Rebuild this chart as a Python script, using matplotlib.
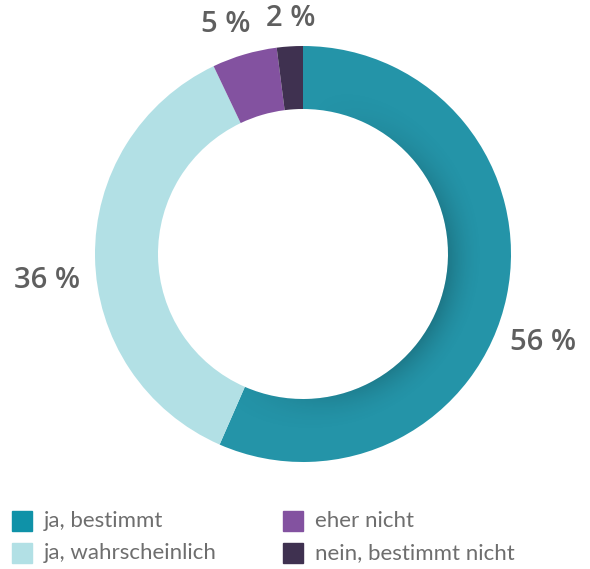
import numpy as np
import matplotlib.pyplot as plt

# Anteile (im Uhrzeigersinn ab 12 Uhr)
categories = ["ja, bestimmt", "ja, wahrscheinlich", "eher nicht", "nein, bestimmt nicht"]
values = [56, 36, 5, 2]
labels = ["56 %", "36 %", "5 %", "2 %"]
colors = ["#2494a8", "#b2e0e5", "#8352a0", "#3f3150"]
legend_colors = ["#0f92a8", "#b2e0e5", "#8352a0", "#3f3150"]

W, H = 590, 569
fig = plt.figure(figsize=(W / 100, H / 100), dpi=100)

cx, cy, r = 303, 254, 208  # pixel, y von oben
r_in = 145 / 208
ax = fig.add_axes([(cx - r) / W, (H - cy - r) / H, 2 * r / W, 2 * r / H])
wedges, _ = ax.pie(values, colors=colors, startangle=90, counterclock=False,
                   radius=1, wedgeprops=dict(width=1 - r_in, linewidth=0))

# Schatten am Innenrand des grossen Segments (staerker rechts/unten)
g = np.linspace(-1, 1, 600)
xx, yy = np.meshgrid(g, g)
rho = np.hypot(xx, yy)
theta = np.degrees(np.arctan2(xx, yy)) % 360  # im Uhrzeigersinn ab oben
f = np.clip(np.sin(np.radians(theta) * 180 / 220), 0, 1) ** 1.5
fade = np.clip(1 - (rho - r_in) / 0.18, 0, 1) ** 2
shade = np.zeros((600, 600, 4))
shade[..., 3] = 0.2 * f * fade
im = ax.imshow(shade, extent=(-1, 1, -1, 1), origin="lower", interpolation="bilinear",
               zorder=3)
im.set_clip_path(wedges[0])

ax.set_xlim(-1, 1)
ax.set_ylim(-1, 1)
ax.set_aspect("equal")
ax.axis("off")

# Prozentlabels
label_pos = [(543, 342), (47, 281), (226, 24), (291, 18)]
for (x, y), t in zip(label_pos, labels):
    fig.text(x / W, 1 - y / H, t, ha="center", va="center", fontsize=21,
             color="#5f5f5f", fontweight="semibold", family="Open Sans")

# Legende
leg_pos = [(12, 521), (12, 553), (283, 521), (283, 553)]
for (x, y), c, name in zip(leg_pos, legend_colors, categories):
    fig.patches.append(plt.Rectangle((x / W, 1 - (y + 10) / H), 20 / W, 20 / H,
                                     transform=fig.transFigure, color=c, figure=fig))
    fig.text((x + 32) / W, 1 - y / H, name, ha="left", va="center", fontsize=16,
             color="#6e6e6e", family="Lato")

fig.savefig("out.png", dpi=100)
